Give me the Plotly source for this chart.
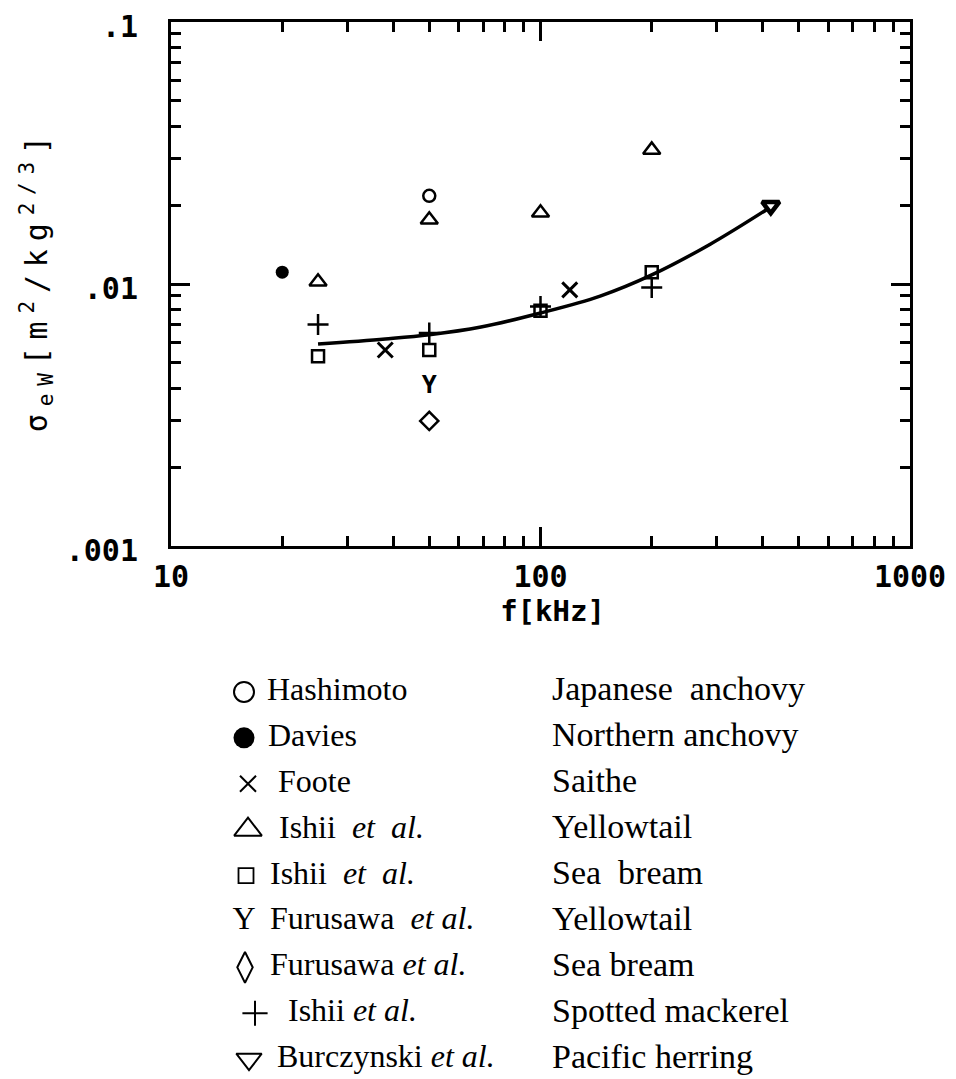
import plotly.graph_objects as go

# ---------------- data ----------------
hashimoto_f = [50]
hashimoto_s = [0.0217]

davies_f = [20]
davies_s = [0.0111]

foote_f = [38, 120]
foote_s = [0.0056, 0.0095]

ishii_yt_f = [25, 50, 100, 200]
ishii_yt_s = [0.0102, 0.0176, 0.0187, 0.0325]

ishii_sb_f = [25, 50, 100, 200]
ishii_sb_s = [0.0053, 0.0056, 0.0079, 0.0111]

furusawa_yt_f = [50]
furusawa_yt_s = [0.00405]

furusawa_sb_f = [50]
furusawa_sb_s = [0.0030]

ishii_sm_f = [25, 50, 100, 200]
ishii_sm_s = [0.0070, 0.0065, 0.0082, 0.0097]

burczynski_f = [420]
burczynski_s = [0.0199]

curve_f = [25, 38, 50, 69, 100, 145, 200, 288, 410]
curve_s = [0.00590, 0.00617, 0.00640, 0.00685, 0.00775, 0.00899, 0.01083, 0.01419, 0.01926]

x_tickvals = [10, 100, 1000]
x_ticktext = ["10", "100", "1000"]
y_tickvals = [0.001, 0.01, 0.1]
y_ticktext = [".001", ".01", ".1"]
x_minor = [20, 30, 40, 50, 60, 70, 80, 90, 200, 300, 400, 500, 600, 700, 800, 900]
y_minor = [0.002, 0.003, 0.004, 0.005, 0.006, 0.007, 0.008, 0.009,
           0.02, 0.03, 0.04, 0.05, 0.06, 0.07, 0.08, 0.09]

legend_authors = ["Hashimoto", "Davies", "Foote", "Ishii\u00a0 <i>et\u00a0 al.</i>",
                  "Ishii\u00a0 <i>et\u00a0 al.</i>", "Furusawa\u00a0 <i>et al.</i>",
                  "Furusawa <i>et al.</i>", "Ishii <i>et al.</i>", "Burczynski <i>et al.</i>"]
legend_species = ["Japanese\u00a0 anchovy", "Northern anchovy", "Saithe", "Yellowtail",
                  "Sea\u00a0 bream", "Yellowtail", "Sea bream", "Spotted mackerel",
                  "Pacific herring"]
legend_rows = list(range(9))

# ---------------- layout positions (legend columns, px in page coords) ----------------
sym_x = [244, 244, 248, 248, 246, 244, 245, 255, 249]
col1_x = [267, 268, 278, 279, 270, 270, 270, 288, 277]
col2_x = [552] * 9

mono = "DejaVu Sans Mono"
serif = "Liberation Serif"

# page body has an 8px margin: lay the figure out in page coordinates
OX, OY = 8, 8
PW, PH = 956, 1079
W, H = PW - OX, PH - OY


def px_x(p):
    return (p - OX) / W


def px_y(p):
    return 1 - (p - OY) / H


def spaced(parts, gap=13):
    """Insert small extra gaps between characters (plotter-style wide spacing)."""
    sp = '<span style="font-size:%dpx">\u00a0</span>' % gap
    out = []
    for kind, txt in parts:
        chars = sp.join(txt)
        if kind == "sub":
            out.append("<sub>" + chars + "</sub>")
        elif kind == "sup":
            out.append("<sup>" + chars + "</sup>")
        else:
            out.append(chars)
    return sp.join(out)


y_title = spaced([("n", "σ"), ("sub", "eW"), ("n", "[m"), ("sup", "2"),
                  ("n", "/kg"), ("sup", "2/3"), ("n", "]")])
x_title = '<span style="font-size:20px">\u00a0\u00a0</span>f[kHz]'

fig = go.Figure()

# ---------------- main plot ----------------
fig.add_trace(go.Scatter(x=curve_f, y=curve_s, mode="lines",
                         line=dict(color="black", width=3.5, shape="spline", smoothing=1.0),
                         showlegend=False, hoverinfo="skip"))


def mk(fx, fy, symbol, size, width=2.5, color="black"):
    fig.add_trace(go.Scatter(x=fx, y=fy, mode="markers", showlegend=False,
                             marker=dict(symbol=symbol, size=size, color=color,
                                         line=dict(color="black", width=width))))


mk(hashimoto_f, hashimoto_s, "circle-open", 12)
mk(davies_f, davies_s, "circle", 13, width=0)
mk(foote_f, foote_s, "x-thin-open", 15, width=3)
mk(ishii_yt_f, ishii_yt_s, "triangle-up-open", 15)
mk(ishii_sb_f, ishii_sb_s, "square-open", 12)
mk(furusawa_sb_f, furusawa_sb_s, "diamond-open", 14)
mk(ishii_sm_f, ishii_sm_s, "cross-thin-open", 15, width=2.5)
mk(burczynski_f, burczynski_s, "triangle-down-open", 15, width=4.5)
fig.add_trace(go.Scatter(x=furusawa_yt_f, y=furusawa_yt_s, mode="text", text=["Y"],
                         textposition="middle center",
                         textfont=dict(family=mono, size=25, color="black", weight="bold"),
                         showlegend=False))

# ---------------- custom legend ----------------
def lg(i, symbol, size, width=2, color="black"):
    fig.add_trace(go.Scatter(x=[sym_x[i]], y=[legend_rows[i]], mode="markers",
                             xaxis="x2", yaxis="y2", showlegend=False,
                             marker=dict(symbol=symbol, size=size, color=color,
                                         line=dict(color="black", width=width))))


lg(0, "circle-open", 20)
lg(1, "circle", 21, width=0)
lg(2, "x-thin-open", 16)
lg(3, "triangle-up-open", 24)
lg(4, "square-open", 15, width=1.8)
lg(6, "diamond-tall-open", 22)
lg(7, "cross-thin-open", 18)
lg(8, "triangle-down-open", 22)
fig.add_trace(go.Scatter(x=[sym_x[5]], y=[legend_rows[5]], mode="text", text=["Y"],
                         textposition="middle center", xaxis="x2", yaxis="y2",
                         textfont=dict(family=serif, size=32, color="black"),
                         showlegend=False))
fig.add_trace(go.Scatter(x=col1_x, y=legend_rows, mode="text", text=legend_authors,
                         textposition="middle right", xaxis="x2", yaxis="y2",
                         textfont=dict(family=serif, size=32, color="black"),
                         showlegend=False))
fig.add_trace(go.Scatter(x=col2_x, y=legend_rows, mode="text", text=legend_species,
                         textposition="middle right", xaxis="x2", yaxis="y2",
                         textfont=dict(family=serif, size=34, color="black"),
                         showlegend=False))

axis_common = dict(showline=True, linewidth=3, linecolor="black", mirror="allticks",
                   ticks="inside", ticklen=19, tickwidth=3, tickcolor="black",
                   showgrid=False, zeroline=False, automargin=False,
                   ticklabeloverflow="allow",
                   tickfont=dict(family=mono, size=30, color="black", weight="bold"))

row_px = 45.9
leg_top = 669
fig.update_layout(
    width=W, height=H, margin=dict(l=0, r=0, t=0, b=0, autoexpand=False),
    paper_bgcolor="white", plot_bgcolor="white", showlegend=False,
    xaxis=dict(type="log", range=[1, 3], domain=[px_x(171), px_x(910)],
               tickvals=x_tickvals, ticktext=x_ticktext,
               minor=dict(tickvals=x_minor, ticks="inside", ticklen=10, tickwidth=3,
                          tickcolor="black", showgrid=False),
               title=dict(text=x_title, standoff=4,
                          font=dict(family=mono, size=29, color="black", weight="bold")),
               ticklabelstandoff=2,
               **axis_common),
    yaxis=dict(type="log", range=[-3, -1], domain=[px_y(546), px_y(22)],
               tickvals=y_tickvals, ticktext=y_ticktext,
               minor=dict(tickvals=y_minor, ticks="inside", ticklen=10, tickwidth=3,
                          tickcolor="black", showgrid=False),
               title=dict(text=y_title, standoff=10,
                          font=dict(family=mono, size=30, color="black")),
               ticklabelstandoff=24, ticklabelshift=4,
               **axis_common),
    xaxis2=dict(domain=[0, 1], range=[OX, OX + W], visible=False, anchor="y2"),
    yaxis2=dict(domain=[0, px_y(leg_top)],
                range=[-0.5 + (PH - leg_top) / row_px, -0.5], visible=False, anchor="x2"),
)

fig.write_html("out.html")
